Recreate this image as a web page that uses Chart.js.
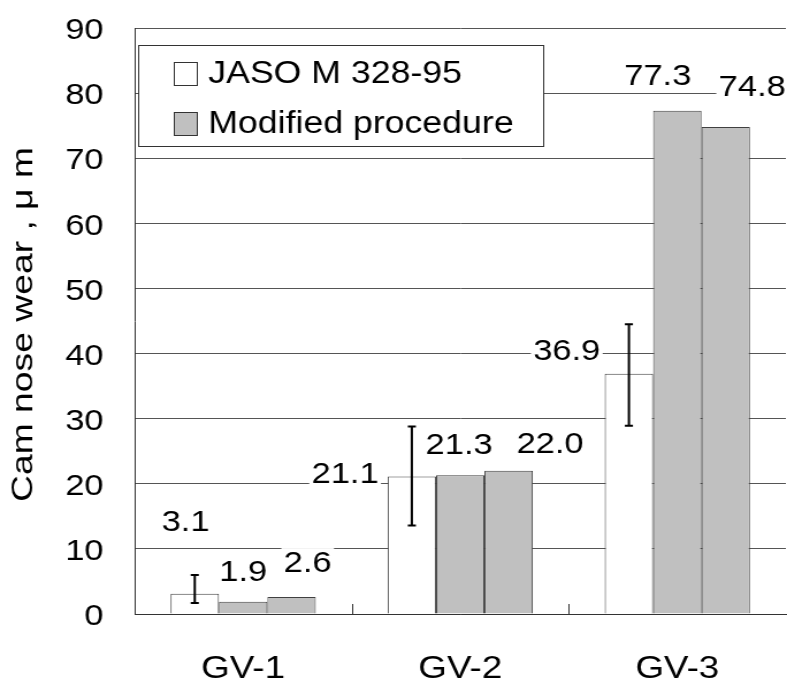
<!DOCTYPE html>
<html>
<head>
<meta charset="utf-8">
<script src="https://cdn.jsdelivr.net/npm/chart.js@4.4.0/dist/chart.umd.min.js"></script>
<style>
  html, body { margin: 0; padding: 0; background: #fff; overflow: hidden; }
  /* chart is laid out square, then widened to the page width */
  #wrap { width: 684px; height: 684px; transform: scaleX(1.1506); transform-origin: 0 0; }
</style>
</head>
<body>
<div id="wrap"><canvas id="chart" width="684" height="684"></canvas></div>
<script>
var categories = ['GV-1', 'GV-2', 'GV-3']
var jaso = [3.1, 21.1, 36.9]
var jasoLow = [1.7, 13.6, 28.9]
var jasoHigh = [6.0, 28.8, 44.5]
var modifiedA = [1.9, 21.3, 77.3]
var modifiedB = [2.6, 22.0, 74.8]
var yTicks = [0, 10, 20, 30, 40, 50, 60, 70, 80, 90]
var yTitle = 'Cam nose wear , \u03bc m'

var FONT = 'Arial, "Liberation Sans", sans-serif'

// where each value label sits, relative to the top centre of its bar
var labelNudge = [
    [{dx: -8, dy: -71}, {dx: -58, dy: -2}, {dx: -54, dy: -22}],
    [{dx: 0, dy: -29}, {dx: -1, dy: -30}, {dx: -17, dy: -34}],
    [{dx: 14, dy: -33}, {dx: 36, dy: -26}, {dx: 23, dy: -39}]
]

var extras = {
    id: 'extras',
    afterDatasetsDraw: function (chart) {
        var ctx = chart.ctx
        var y = chart.scales.y
        var x = chart.scales.x
        var area = chart.chartArea

        // small ticks on the baseline between groups
        ctx.save()
        ctx.strokeStyle = '#333'
        ctx.lineWidth = 1
        for (var i = 0; i < categories.length - 1; i++) {
            var bx = Math.round((x.getPixelForValue(i) + x.getPixelForValue(i + 1)) / 2) + 0.5
            ctx.beginPath()
            ctx.moveTo(bx, area.bottom)
            ctx.lineTo(bx, area.bottom - 10)
            ctx.stroke()
        }
        ctx.restore()

        // error bars on the JASO bars
        var meta0 = chart.getDatasetMeta(0)
        ctx.save()
        ctx.strokeStyle = '#000'
        ctx.lineWidth = 2
        meta0.data.forEach(function (bar, i) {
            var top = y.getPixelForValue(jasoHigh[i])
            var bot = y.getPixelForValue(jasoLow[i])
            ctx.beginPath()
            ctx.moveTo(bar.x, top)
            ctx.lineTo(bar.x, bot)
            ctx.moveTo(bar.x - 3.5, top)
            ctx.lineTo(bar.x + 3.5, top)
            ctx.moveTo(bar.x - 3.5, bot)
            ctx.lineTo(bar.x + 3.5, bot)
            ctx.stroke()
        })
        ctx.restore()

        // value labels on white boxes
        ctx.save()
        ctx.font = '30px ' + FONT
        ctx.textAlign = 'center'
        ctx.textBaseline = 'middle'
        chart.data.datasets.forEach(function (ds, d) {
            var meta = chart.getDatasetMeta(d)
            meta.data.forEach(function (bar, i) {
                var txt = ds.data[i].toFixed(1)
                var n = labelNudge[d][i]
                var cx = bar.x + n.dx
                var cy = bar.y + n.dy
                var w = ctx.measureText(txt).width
                ctx.fillStyle = '#fff'
                ctx.fillRect(cx - w / 2 - 2, cy - 16, w + 4, 32)
                ctx.fillStyle = '#000'
                ctx.fillText(txt, cx, cy)
            })
        })
        ctx.restore()
    },
    afterDraw: function (chart) {
        var ctx = chart.ctx

        // legend box
        ctx.save()
        ctx.fillStyle = '#fff'
        ctx.fillRect(120, 45, 352, 101)
        ctx.strokeStyle = '#333'
        ctx.lineWidth = 1
        ctx.strokeRect(120.5, 45.5, 352, 101)
        var items = [
            {text: chart.data.datasets[0].label, color: chart.data.datasets[0].backgroundColor, cy: 73.5},
            {text: chart.data.datasets[1].label, color: chart.data.datasets[1].backgroundColor, cy: 123.5}
        ]
        ctx.font = '31px ' + FONT
        ctx.textBaseline = 'middle'
        ctx.textAlign = 'left'
        items.forEach(function (it) {
            ctx.fillStyle = it.color
            ctx.fillRect(151, it.cy - 11.5, 20, 23)
            ctx.strokeStyle = '#333'
            ctx.strokeRect(151.5, it.cy - 11, 20, 23)
            ctx.fillStyle = '#000'
            ctx.fillText(it.text, 181, it.cy + 1)
        })
        ctx.restore()

        // y axis title, stretched along its length
        ctx.save()
        ctx.translate(21, 324.5)
        ctx.rotate(-Math.PI / 2)
        ctx.font = '26px ' + FONT
        var w = ctx.measureText(yTitle).width
        ctx.scale(355 / w, 1)
        ctx.textAlign = 'center'
        ctx.textBaseline = 'middle'
        ctx.fillStyle = '#000'
        ctx.fillText(yTitle, 0, 0)
        ctx.restore()
    }
}

var data = {
    labels: categories,
    datasets: [
        {
            label: 'JASO M 328-95',
            data: jaso,
            backgroundColor: '#ffffff',
            borderColor: '#404040',
            borderWidth: 1
        },
        {
            label: 'Modified procedure',
            data: modifiedA,
            backgroundColor: '#c0c0c0',
            borderColor: '#404040',
            borderWidth: 1
        },
        {
            label: 'Modified procedure',
            data: modifiedB,
            backgroundColor: '#c0c0c0',
            borderColor: '#404040',
            borderWidth: 1
        }
    ]
}

var config = {
    type: 'bar',
    data: data,
    options: {
        responsive: false,
        animation: false,
        devicePixelRatio: 1,
        layout: { padding: { top: 28, right: 1, left: 0, bottom: 0 } },
        datasets: { bar: { categoryPercentage: 0.669, barPercentage: 1.0 } },
        plugins: { legend: { display: false }, tooltip: { enabled: false } },
        scales: {
            x: {
                grid: { display: false },
                border: { display: true, color: '#333', width: 1 },
                ticks: { color: '#000', font: { family: FONT, size: 32 }, padding: 28 },
                afterFit: function (scale) { scale.height = 70 }
            },
            y: {
                min: 0,
                max: 90,
                afterBuildTicks: function (scale) {
                    scale.ticks = yTicks.map(function (v) { return { value: v } })
                },
                grid: { color: '#555', lineWidth: 1, drawTicks: false },
                border: { display: true, color: '#333', width: 1 },
                ticks: { color: '#000', font: { family: FONT, size: 30 }, padding: 27, labelOffset: 3 },
                afterFit: function (scale) {
                    scale.width = 117
                    scale.paddingTop = 0
                    scale.paddingBottom = 0
                }
            }
        }
    },
    plugins: [extras]
}

var myChart = new Chart(document.getElementById('chart'), config)
</script>
</body>
</html>
